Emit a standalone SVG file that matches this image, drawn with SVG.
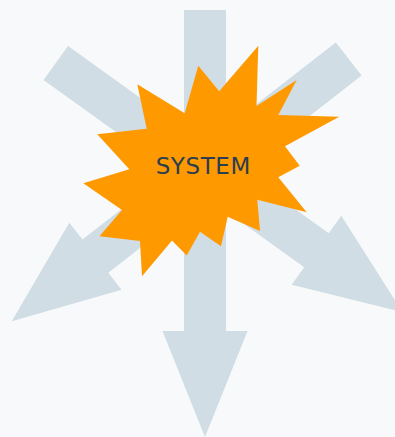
<svg xmlns="http://www.w3.org/2000/svg" width="395" height="437" viewBox="0 0 395 437">
  <defs>
    <path id="arrowShape" d="M-21,0 H21 V321 H42.5 L0,427 L-42.5,321 H-21 Z"/>
  </defs>
  <style>
    .arrow { fill: #d0dde4; }
    .star { fill: #ff9900; }
    .label { font-family: "DejaVu Sans", Verdana, sans-serif; font-size: 23px; letter-spacing: 0.6px; fill: #2b3e50; text-anchor: middle; }
  </style>
  <rect width="395" height="437" fill="#f7f9fa"/>
  <g id="connectors">
    <use href="#arrowShape" class="arrow" transform="translate(205,10)"/>
    <use href="#arrowShape" class="arrow" transform="translate(55.8,63) rotate(-54.3)"/>
    <use href="#arrowShape" class="arrow" transform="translate(348.7,59) rotate(52.1)"/>
  </g>
  <g id="system">
    <polygon class="star" points="258.3,45.7 256.5,106 296.7,80 278.3,115 339.2,116.7 285,146.2 299.7,165.7 278.3,177.2 306.7,212.3 257.3,199.7 260,231 227.7,216.7 221,246.3 200,231.7 186.7,255.5 172,240.5 142,276.3 140,241 99.5,236.3 122,210 83.3,183.3 129.3,169.3 97.3,134.2 146.7,128.7 137.3,84.2 184.7,113.3 198.3,65.7 219.2,91.2"/>
    <text class="label" x="203.3" y="174.3">SYSTEM</text>
  </g>
</svg>
